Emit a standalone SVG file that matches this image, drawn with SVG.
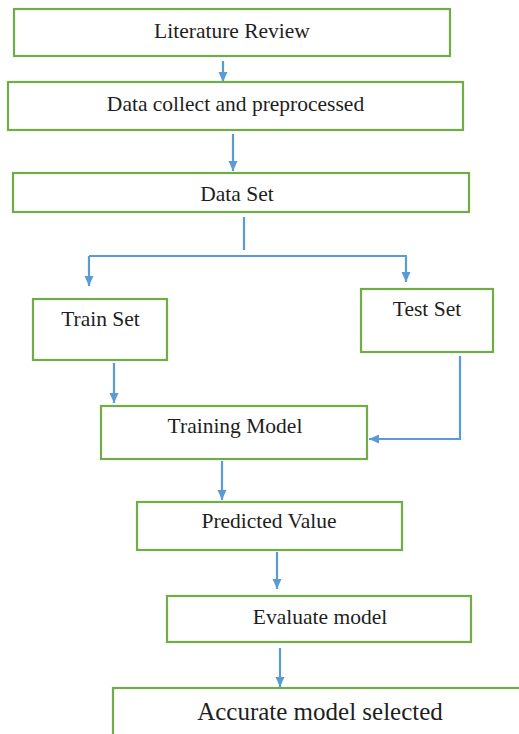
<svg xmlns="http://www.w3.org/2000/svg" width="519" height="734" viewBox="0 0 519 734">
<style>
.box{fill:#fff;stroke:#70AD47;stroke-width:2.2}
.t{font-family:'Liberation Serif','Times New Roman','DejaVu Serif',serif;font-size:21.5px;fill:#1e1e1e;text-anchor:middle}
.c{fill:none;stroke:#5B9BD5;stroke-width:2.2}
</style>
<defs>
<marker id="ah" markerUnits="userSpaceOnUse" markerWidth="10" markerHeight="10" viewBox="0 0 10 10" refX="10" refY="5" orient="auto">
<path d="M0,0.5 L10,5 L0,9.5 Z" fill="#5B9BD5"/>
</marker>
</defs>
<rect width="519" height="734" fill="#fff"/>
<g id="connectors">
<line class="c" x1="223" y1="61" x2="223" y2="82" marker-end="url(#ah)"/>
<line class="c" x1="233" y1="134" x2="233" y2="171" marker-end="url(#ah)"/>
<line class="c" x1="244" y1="217" x2="244" y2="250"/>
<line class="c" x1="89" y1="256" x2="407" y2="256"/>
<line class="c" x1="89" y1="256" x2="89" y2="286" marker-end="url(#ah)"/>
<line class="c" x1="406" y1="256" x2="406" y2="282" marker-end="url(#ah)"/>
<line class="c" x1="114" y1="363" x2="114" y2="403" marker-end="url(#ah)"/>
<polyline class="c" points="460,356 460,439 369,439" marker-end="url(#ah)"/>
<line class="c" x1="222" y1="461" x2="222" y2="500" marker-end="url(#ah)"/>
<line class="c" x1="277" y1="552" x2="277" y2="589" marker-end="url(#ah)"/>
<line class="c" x1="280" y1="648" x2="280" y2="687" marker-end="url(#ah)"/>
</g>
<g id="literature-review"><rect class="box" x="14" y="9" width="436" height="47"/><text class="t" font-family="Liberation Serif, serif" x="232" y="38">Literature Review</text></g>
<g id="data-collect"><rect class="box" x="8" y="82" width="455" height="48"/><text class="t" font-family="Liberation Serif, serif" x="235.5" y="111">Data collect and preprocessed</text></g>
<g id="data-set"><rect class="box" x="13" y="173" width="456" height="39"/><text class="t" font-family="Liberation Serif, serif" x="237" y="201">Data Set</text></g>
<g id="train-set"><rect class="box" x="33" y="299" width="134" height="61"/><text class="t" font-family="Liberation Serif, serif" x="100.5" y="326">Train Set</text></g>
<g id="test-set"><rect class="box" x="361" y="289" width="132" height="63"/><text class="t" font-family="Liberation Serif, serif" x="427" y="316">Test Set</text></g>
<g id="training-model"><rect class="box" x="101" y="406" width="266" height="53"/><text class="t" font-family="Liberation Serif, serif" x="235" y="433">Training Model</text></g>
<g id="predicted-value"><rect class="box" x="137" y="502" width="265" height="48"/><text class="t" font-family="Liberation Serif, serif" x="269" y="528">Predicted Value</text></g>
<g id="evaluate-model"><rect class="box" x="167" y="596" width="304" height="46"/><text class="t" font-family="Liberation Serif, serif" x="320" y="624">Evaluate model</text></g>
<g id="accurate-model"><rect class="box" x="113" y="688" width="430" height="70"/><text class="t" font-family="Liberation Serif, serif" x="320" y="720" style="font-size:25px">Accurate model selected</text></g>
</svg>
